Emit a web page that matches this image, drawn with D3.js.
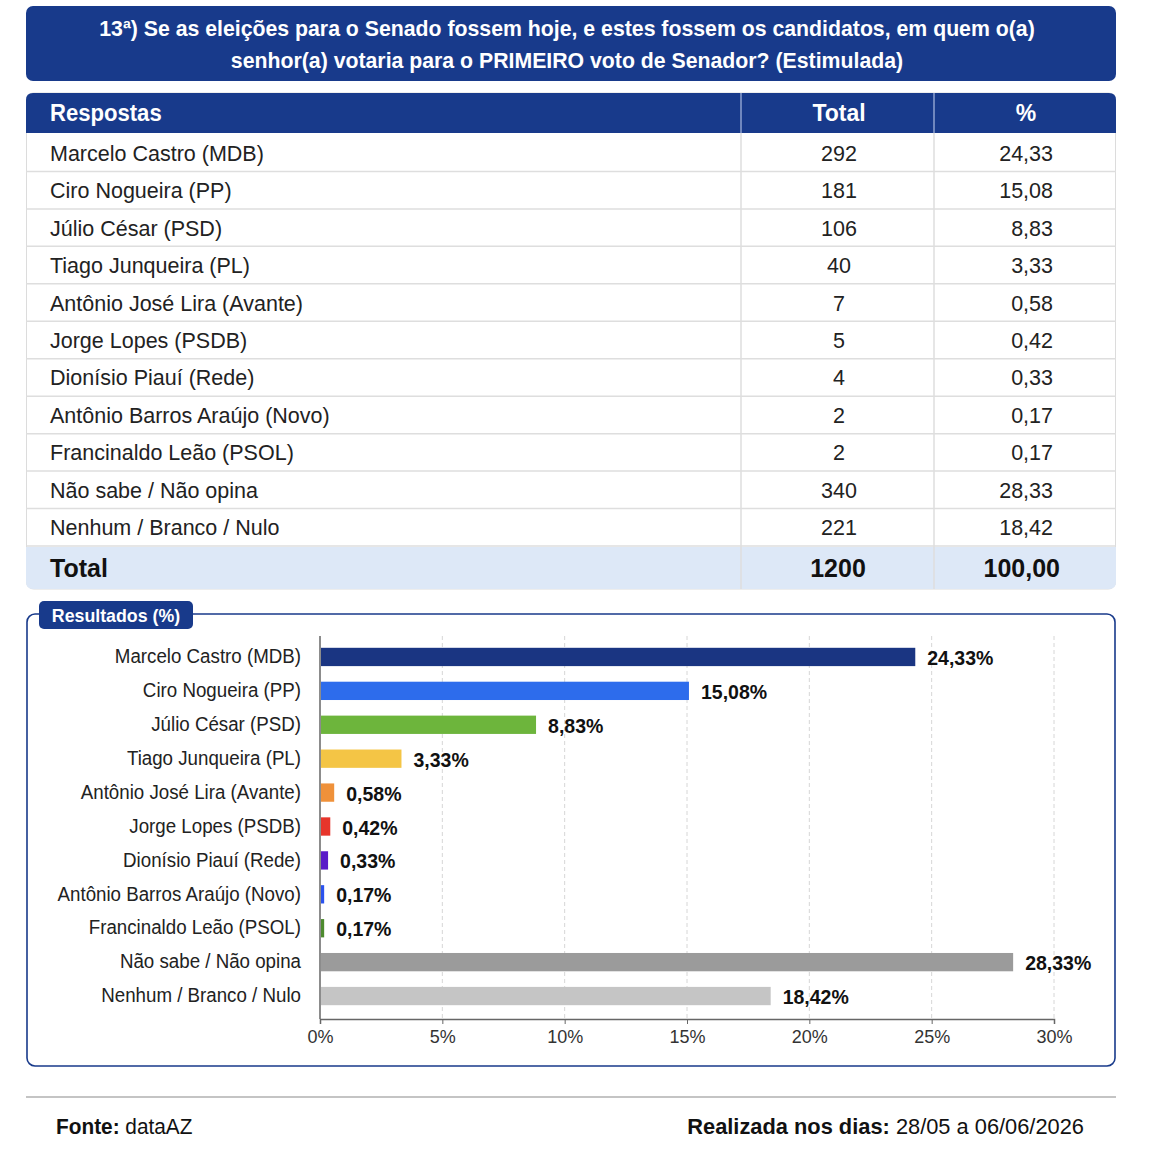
<!DOCTYPE html>
<html><head><meta charset="utf-8">
<script src="https://cdn.jsdelivr.net/npm/d3@7"></script>
<style>
body{margin:0;background:#fff;}
svg{display:block;}
text{font-family:"Liberation Sans Narrow","Arial Narrow","Liberation Sans",Arial,sans-serif;}
</style></head>
<body>
<svg id="c" width="1153" height="1164"></svg>
<script>
const titleLines = ["13ª) Se as eleições para o Senado fossem hoje, e estes fossem os candidatos, em quem o(a)",
                    "senhor(a) votaria para o PRIMEIRO voto de Senador? (Estimulada)"];
const categories = ["Marcelo Castro (MDB)","Ciro Nogueira (PP)","Júlio César (PSD)","Tiago Junqueira (PL)",
  "Antônio José Lira (Avante)","Jorge Lopes (PSDB)","Dionísio Piauí (Rede)","Antônio Barros Araújo (Novo)",
  "Francinaldo Leão (PSOL)","Não sabe / Não opina","Nenhum / Branco / Nulo"];
const totals = [292,181,106,40,7,5,4,2,2,340,221];
const percents = [24.33,15.08,8.83,3.33,0.58,0.42,0.33,0.17,0.17,28.33,18.42];
const barColors = ["#1a3582","#2d6cec","#6db53c","#f4c545","#ef913a","#e7352b","#5a1bc8","#2a52ee","#4d8a2e","#9b9b9b","#c5c5c5"];
const xTicks = [0,5,10,15,20,25,30];
const grandTotal = 1200;
const grandPercent = 100;
const headers = ["Respostas","Total","%"];
const footLeft = ["Fonte:"," dataAZ"];
const footRight = ["Realizada nos dias:"," 28/05 a 06/06/2026"];

const NAVY = "#183a8b";
const FONT = '"Liberation Sans Narrow","Arial Narrow","Liberation Sans",Arial,sans-serif';
const loc = d3.formatLocale({decimal:",",thousands:".",grouping:[3],currency:["",""]});
const f2 = loc.format(".2f");
const svg = d3.select("#c");

// condense helper: keeps glyph height, narrows width
function condense(sel, k){
  sel.each(function(){
    const w = this.getComputedTextLength();
    d3.select(this).attr("textLength", w*k).attr("lengthAdjust","spacingAndGlyphs");
  });
}

// Title box
svg.append("rect").attr("x",26).attr("y",6).attr("width",1090).attr("height",75).attr("rx",7).attr("fill",NAVY);
const tl = svg.selectAll("text.title").data(titleLines).join("text").attr("class","title")
  .attr("x",567).attr("y",(d,i)=>28+i*32).attr("text-anchor","middle").attr("dominant-baseline","central")
  .attr("fill","#fff").attr("font-weight","bold").attr("font-size",22.5).text(d=>d);
condense(tl, 0.945);

// Table
const tX0=26, tX1=1116, c1=741, c2=934;
const rowY = d3.scaleBand().domain(d3.range(categories.length)).range([134,546]);
svg.append("rect").attr("x",tX0+0.5).attr("y",93).attr("width",tX1-tX0-1).attr("height",496).attr("rx",7)
  .attr("fill","#fff").attr("stroke","#dcdcdc");
svg.append("path").attr("fill",NAVY)
  .attr("d",`M${tX0},133 V100 Q${tX0},93 ${tX0+7},93 H${tX1-7} Q${tX1},93 ${tX1},100 V133 Z`);
svg.append("path").attr("fill","#dde8f7")
  .attr("d",`M${tX0},547 V582 Q${tX0},589 ${tX0+7},589 H${tX1-7} Q${tX1},589 ${tX1},582 V547 Z`);
svg.selectAll("line.rs").data(d3.range(1,categories.length+1)).join("line").attr("class","rs")
  .attr("x1",tX0).attr("x2",tX1).attr("y1",d=>rowY(d)||546).attr("y2",d=>rowY(d)||546)
  .attr("stroke","#dedede").attr("stroke-width",1.5);
[c1,c2].forEach(x=>{
  svg.append("line").attr("x1",x).attr("x2",x).attr("y1",93).attr("y2",133).attr("stroke","#8ea2cf").attr("stroke-width",1.5);
  svg.append("line").attr("x1",x).attr("x2",x).attr("y1",133).attr("y2",589).attr("stroke","#dedede").attr("stroke-width",1.5);
});
const h0 = svg.append("text").attr("x",50).attr("y",113).attr("dominant-baseline","central").attr("fill","#fff")
  .attr("font-weight","bold").attr("font-size",23).text(headers[0]);
condense(h0, 0.96);
svg.append("text").attr("x",839).attr("y",113).attr("text-anchor","middle").attr("dominant-baseline","central").attr("fill","#fff")
  .attr("font-weight","bold").attr("font-size",23).text(headers[1]);
svg.append("text").attr("x",1026).attr("y",113).attr("text-anchor","middle").attr("dominant-baseline","central").attr("fill","#fff")
  .attr("font-weight","bold").attr("font-size",23).text(headers[2]);
const rows = svg.selectAll("g.row").data(categories).join("g").attr("class","row")
  .attr("transform",(d,i)=>`translate(0,${rowY(i)+rowY.bandwidth()/2+1})`);
rows.append("text").attr("x",50).attr("dominant-baseline","central").attr("font-size",21.5).attr("fill","#222").text(d=>d);
rows.append("text").attr("x",839).attr("text-anchor","middle").attr("dominant-baseline","central").attr("font-size",21.5).attr("fill","#222").text((d,i)=>totals[i]);
rows.append("text").attr("x",1053).attr("text-anchor","end").attr("dominant-baseline","central").attr("font-size",21.5).attr("fill","#222").text((d,i)=>f2(percents[i]));
svg.append("text").attr("x",50).attr("y",568).attr("dominant-baseline","central").attr("font-weight","bold").attr("font-size",25).attr("fill","#111").text("Total");
svg.append("text").attr("x",838).attr("y",568).attr("text-anchor","middle").attr("dominant-baseline","central").attr("font-weight","bold").attr("font-size",25).attr("fill","#111").text(grandTotal);
svg.append("text").attr("x",1060).attr("y",568).attr("text-anchor","end").attr("dominant-baseline","central").attr("font-weight","bold").attr("font-size",25).attr("fill","#111").text(f2(grandPercent));

// Chart panel
svg.append("rect").attr("x",27).attr("y",614).attr("width",1088).attr("height",452).attr("rx",8)
  .attr("fill","#fff").attr("stroke",NAVY).attr("stroke-width",1.6);
svg.append("rect").attr("x",39).attr("y",601).attr("width",154).attr("height",28).attr("rx",5).attr("fill",NAVY);
const tab = svg.append("text").attr("x",116).attr("y",615).attr("text-anchor","middle").attr("dominant-baseline","central")
  .attr("fill","#fff").attr("font-weight","bold").attr("font-size",19).text("Resultados (%)");
condense(tab, 0.935);

const x = d3.scaleLinear().domain([0,30]).range([320,1054]);
const y = d3.scaleBand().domain(categories).range([640,1013]).paddingInner(0.46).paddingOuter(0.23);
const yAxisBottom = 1019;
svg.append("g").selectAll("line").data(xTicks.slice(1)).join("line")
  .attr("x1",d=>x(d)).attr("x2",d=>x(d)).attr("y1",636).attr("y2",yAxisBottom)
  .attr("stroke","#d6d6d6").attr("stroke-dasharray","4,3");
const xa = svg.append("g").attr("transform",`translate(0,${yAxisBottom})`)
  .call(d3.axisBottom(x).tickValues(xTicks).tickFormat(d=>d+"%").tickSize(5).tickPadding(6));
xa.select(".domain").attr("stroke","#666").attr("stroke-width",1.5);
xa.selectAll(".tick line").attr("stroke","#666");
xa.selectAll(".tick text").attr("font-size",18).attr("fill","#333").attr("font-family",FONT);
const ya = svg.append("g").attr("transform",`translate(320,0)`).call(d3.axisLeft(y).tickSize(0).tickPadding(19));
ya.select(".domain").attr("stroke","#666").attr("stroke-width",1.5).attr("d",`M0,636V${yAxisBottom}`);
const yl = ya.selectAll(".tick text").attr("font-size",19.5).attr("fill","#222").attr("font-family",FONT);
condense(yl, 0.96);
svg.append("g").selectAll("rect").data(categories).join("rect")
  .attr("x",x(0)+1).attr("y",d=>y(d)).attr("height",y.bandwidth())
  .attr("width",(d,i)=>Math.max(0,x(percents[i])-x(0)-1)).attr("fill",(d,i)=>barColors[i]);
svg.append("g").selectAll("text").data(categories).join("text")
  .attr("x",(d,i)=>x(percents[i])+12).attr("y",d=>y(d)+y.bandwidth()/2+1).attr("dominant-baseline","central")
  .attr("font-weight","bold").attr("font-size",19.5).attr("fill","#111").text((d,i)=>f2(percents[i])+"%");

// footer
svg.append("line").attr("x1",26).attr("x2",1116).attr("y1",1097).attr("y2",1097).attr("stroke","#c4c4c4").attr("stroke-width",2);
const fl = svg.append("text").attr("x",56).attr("y",1126).attr("dominant-baseline","central").attr("font-size",22.5).attr("fill","#111");
fl.append("tspan").attr("font-weight","bold").text(footLeft[0]);
fl.append("tspan").text(footLeft[1]);
condense(fl, 0.925);
const fr = svg.append("text").attr("x",1084).attr("y",1126).attr("text-anchor","end").attr("dominant-baseline","central").attr("font-size",22.5).attr("fill","#111");
fr.append("tspan").attr("font-weight","bold").text(footRight[0]);
fr.append("tspan").text(footRight[1]);
condense(fr, 0.97);
</script>
</body></html>
